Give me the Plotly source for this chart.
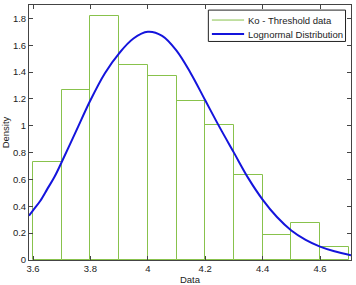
import plotly.graph_objects as go

bin_left = [3.6, 3.7, 3.8, 3.9, 4.0, 4.1, 4.2, 4.3, 4.4, 4.5, 4.6]
density = [0.73, 1.27, 1.82, 1.455, 1.37, 1.185, 1.005, 0.635, 0.19, 0.275, 0.095]
bin_width = 0.1

curve_x = [3.586, 3.6, 3.625, 3.65, 3.675, 3.7, 3.75, 3.8, 3.85, 3.9, 3.95, 4.0, 4.05,
           4.1, 4.15, 4.2, 4.25, 4.3, 4.35, 4.4, 4.45, 4.5, 4.55, 4.6, 4.65, 4.708]
curve_y = [0.33, 0.37, 0.44, 0.53, 0.62, 0.73, 0.96, 1.19, 1.39, 1.54, 1.65, 1.70, 1.67,
           1.56, 1.39, 1.19, 0.99, 0.80, 0.61, 0.45, 0.32, 0.22, 0.15, 0.10, 0.065, 0.035]

x_ticks = [3.6, 3.8, 4.0, 4.2, 4.4, 4.6]
x_labels = ["3.6", "3.8", "4", "4.2", "4.4", "4.6"]
y_ticks = [0, 0.2, 0.4, 0.6, 0.8, 1.0, 1.2, 1.4, 1.6, 1.8]
y_labels = ["0", "0.2", "0.4", "0.6", "0.8", "1", "1.2", "1.4", "1.6", "1.8"]

legend_names = ["Ko - Threshold data", "Lognormal Distribution"]

green = "#88c24c"
blue = "#1414dc"
font = dict(family="Liberation Sans", size=9.5, color="#222")

fig = go.Figure()
fig.add_trace(go.Bar(
    x=[b + bin_width / 2 for b in bin_left], y=density, width=bin_width,
    marker=dict(color="rgba(255,255,255,0)", line=dict(color=green, width=1)),
    name=legend_names[0], showlegend=False, hoverinfo="skip"))
fig.add_trace(go.Scatter(x=curve_x, y=curve_y, mode="lines",
                         line=dict(color=blue, width=2, shape="spline"),
                         name=legend_names[1], showlegend=False))

axis_common = dict(showgrid=False, zeroline=False, showline=True, linecolor="#444",
                   linewidth=1, mirror="ticks", ticks="inside", ticklen=4,
                   tickcolor="#444", tickfont=font, automargin=False)
fig.update_xaxes(range=[3.586, 4.708], tickvals=x_ticks, ticktext=x_labels,
                 title=dict(text="Data", font=font, standoff=5), **axis_common)
fig.update_yaxes(range=[0, 1.9], tickvals=y_ticks, ticktext=y_labels,
                 title=dict(text="Density", font=font, standoff=3), **axis_common)

# MATLAB-style legend box (paper coordinates)
box = dict(x0=0.557, x1=0.983, y0=0.857, y1=0.980)
fig.add_shape(type="rect", xref="paper", yref="paper", **box,
              line=dict(color="#222", width=1), fillcolor="white", layer="above")
rows_y = [0.941, 0.886]
for name, col, w, yy in zip(legend_names, [green, blue], [1, 2], rows_y):
    fig.add_shape(type="line", xref="paper", yref="paper", x0=0.568, x1=0.668,
                  y0=yy, y1=yy, line=dict(color=col, width=w), layer="above")
    fig.add_annotation(xref="paper", yref="paper", x=0.673, y=yy, text=name,
                       showarrow=False, xanchor="left", yanchor="middle", font=font)

fig.update_layout(
    width=356, height=285, margin=dict(l=29, r=5, t=5, b=25),
    plot_bgcolor="white", paper_bgcolor="white", bargap=0, showlegend=False,
)

fig.write_html("out.html")
